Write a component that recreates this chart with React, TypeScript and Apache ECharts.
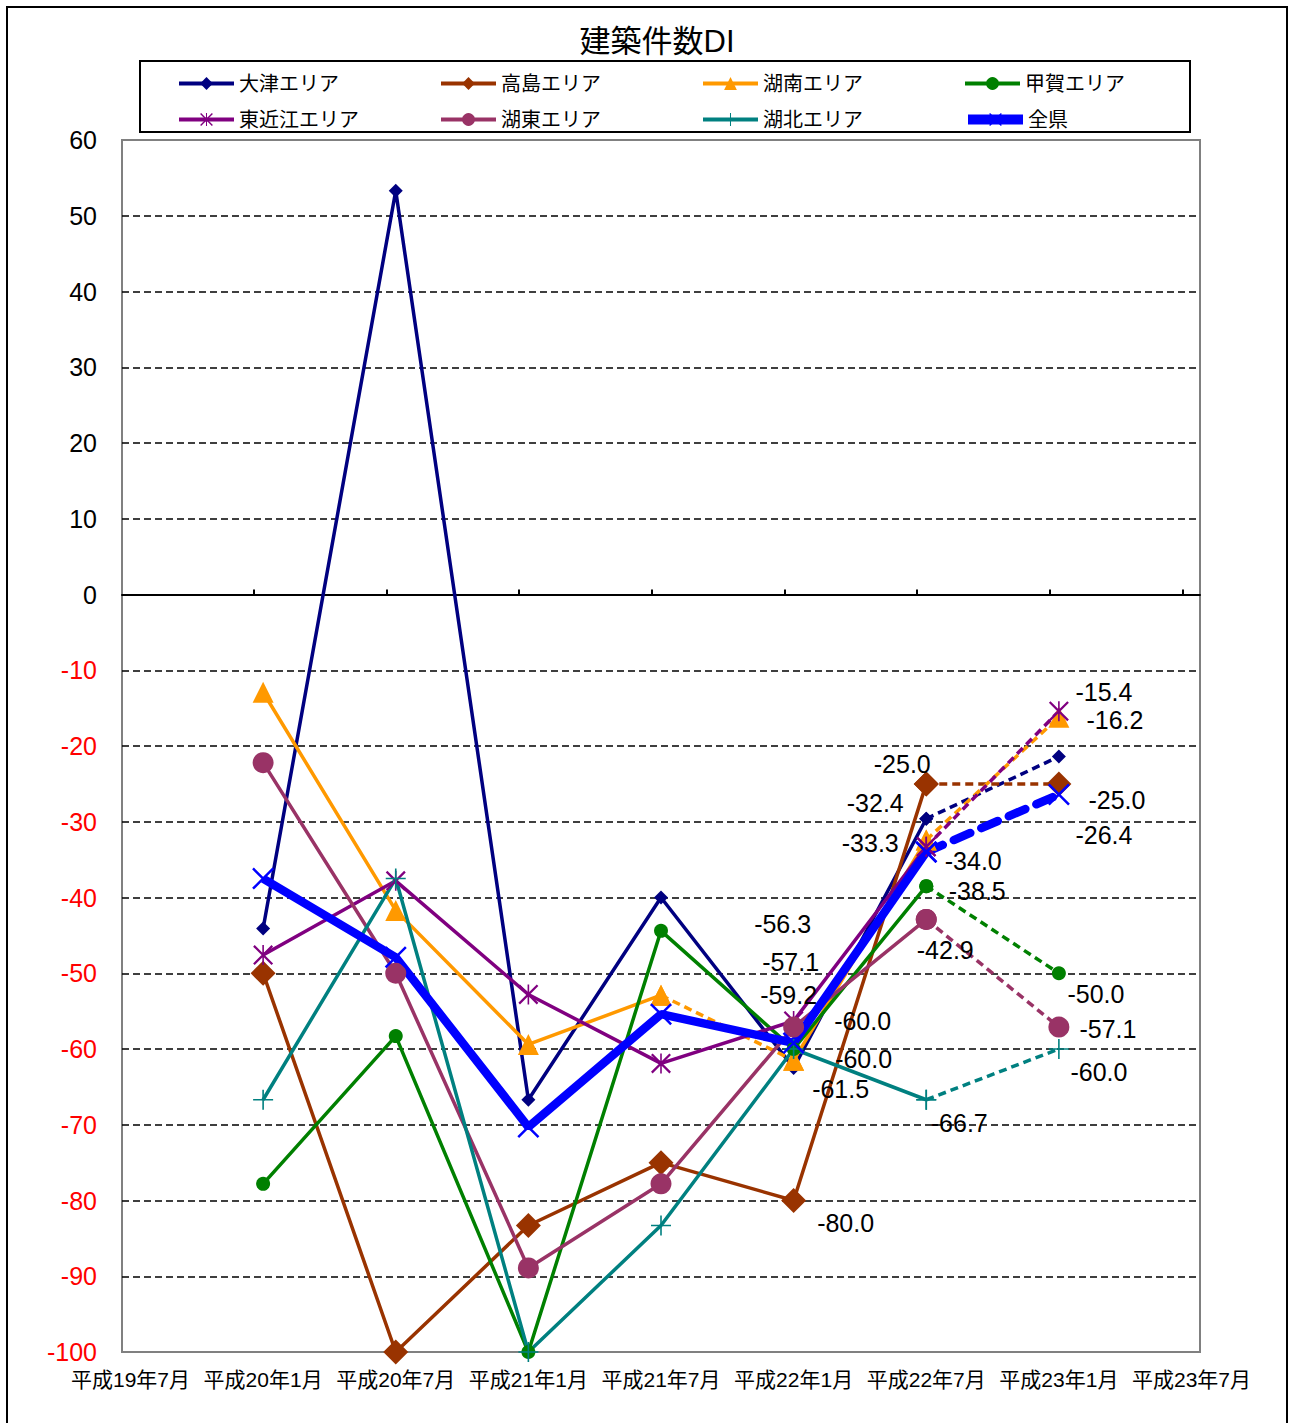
import React, { useEffect, useRef } from "react";
import * as echarts from "echarts";

const FONT = "'Liberation Sans', 'Noto Sans CJK JP', sans-serif";

// Category (tick) labels
const categories = [
  "平成19年7月", "平成20年1月", "平成20年7月", "平成21年1月", "平成21年7月",
  "平成22年1月", "平成22年7月", "平成23年1月", "平成23年7月",
];
// Series values start at category index 1 (平成20年1月) and end at 平成23年1月
const FIRST = 1;
const otsu = [-44.1, 53.3, -66.7, -40.0, -62.5, -29.6, -21.4];
const takashima = [-50.0, -100.0, -83.3, -75.0, -80.0, -25.0, -25.0];
const konan = [-12.9, -41.7, -59.4, -52.9, -61.5, -32.4, -16.2];
const koka = [-77.8, -58.3, -100.0, -44.4, -60.0, -38.5, -50.0];
const higashiomi = [-47.6, -37.8, -52.8, -61.9, -56.3, -33.3, -15.4];
const kotou = [-22.2, -50.0, -88.9, -77.8, -57.1, -42.9, -57.1];
const kohoku = [-66.7, -37.5, -100.0, -83.3, -60.0, -66.7, -60.0];
const zenken = [-37.5, -47.9, -70.3, -55.4, -59.2, -34.0, -26.4];
const yTicks = { min: -100, max: 60, interval: 10 };

// symbol paths
const ASTER = "path://M0,1.6L1.6,0L20,18.4L18.4,20ZM18.4,0L20,1.6L1.6,20L0,18.4ZM9.2,0L10.8,0L10.8,20L9.2,20Z";
const PLUS = "path://M0,9.2L20,9.2L20,10.8L0,10.8ZM9.2,0L10.8,0L10.8,20L9.2,20Z";
const XMARK = "path://M0,1.6L1.6,0L20,18.4L18.4,20ZM18.4,0L20,1.6L1.6,20L0,18.4Z";

const areas = [
  { name: "大津エリア", data: otsu, color: "#000080", width: 3.5, symbol: "diamond", size: 14, dashed: [5], labels: {} },
  { name: "高島エリア", data: takashima, color: "#993300", width: 3.5, symbol: "diamond", size: 25, dashed: [5],
    labels: { 4: [52, 22], 5: [-24, -20], 6: [58, 16] } },
  { name: "湖南エリア", data: konan, color: "#FF9900", width: 3.5, symbol: "triangle", size: 21, dashed: [3, 5],
    labels: { 4: [47, 29], 5: [-51, -37], 6: [56, 3] } },
  { name: "甲賀エリア", data: koka, color: "#008000", width: 3.5, symbol: "circle", size: 14, dashed: [5],
    labels: { 4: [69, -28], 5: [51, 5], 6: [37, 21] } },
  { name: "東近江エリア", data: higashiomi, color: "#800080", width: 3.5, symbol: ASTER, size: 20, dashed: [5],
    labels: { 4: [-11, -97], 5: [-56, -4], 6: [45, -19] } },
  { name: "湖東エリア", data: kotou, color: "#993366", width: 3.5, symbol: "circle", size: 21, dashed: [5],
    labels: { 4: [-3, -65], 5: [19, 31], 6: [49, 2] } },
  { name: "湖北エリア", data: kohoku, color: "#008080", width: 3.5, symbol: PLUS, size: 20, dashed: [5],
    labels: { 4: [70, 10], 5: [33, 23], 6: [40, 23] } },
  { name: "全県", data: zenken, color: "#0000FF", width: 8.5, symbol: XMARK, size: 22, dashed: [5],
    labels: { 4: [-5, -48], 5: [47, 9], 6: [45, 41] } },
];

// plot area geometry
const GRID = { left: 122, top: 140, width: 1078, height: 1212 };
const XMIN = -0.064;
const XMAX = 8.064;
const TICK_SHIFT = -0.069;

function buildSeries(a: any) {
  const out: any[] = [];
  const labeled = new Set<number>();
  const n = a.data.length;
  let i = 0;
  while (i < n - 1) {
    const d = a.dashed.includes(i);
    let j = i;
    while (j < n - 1 && a.dashed.includes(j) === d) j++;
    const pts: any[] = [];
    for (let k = i; k <= j; k++) {
      const item: any = { value: [k + FIRST, a.data[k]] };
      const off = a.labels[k];
      if (off && !labeled.has(k)) {
        labeled.add(k);
        item.label = {
          show: true,
          position: "inside",
          offset: off,
          formatter: a.data[k].toFixed(1),
          color: "#000",
          fontSize: 25,
          fontFamily: FONT,
          align: "center",
          verticalAlign: "middle",
        };
      }
      pts.push(item);
    }
    const thick = a.width > 5;
    out.push({
      type: "line",
      name: a.name,
      xAxisIndex: 0,
      yAxisIndex: 0,
      data: pts,
      symbol: a.symbol,
      symbolSize: a.size,
      showAllSymbol: true,
      itemStyle: { color: a.color, borderWidth: 0 },
      lineStyle: {
        color: a.color,
        width: a.width,
        type: d ? (thick ? [18, 12] : [8, 5]) : "solid",
        cap: d && thick ? "round" : "butt",
      },
      label: { show: false },
      emphasis: { disabled: true },
      z: 3,
    });
    i = j;
  }
  return out;
}

export default function App() {
  const ref = useRef<HTMLDivElement>(null);
  useEffect(() => {
    if (!ref.current) return;
    const chart = echarts.init(ref.current, undefined, { renderer: "svg" });
    const series = areas.flatMap(buildSeries);
    const tickVals = [1, 2, 3, 4, 5, 6, 7, 8].map((v) => v + TICK_SHIFT);
    chart.setOption({
      animation: false,
      backgroundColor: "#ffffff",
      textStyle: { fontFamily: FONT },
      title: {
        text: "建築件数DI",
        left: 652,
        top: 21,
        textAlign: "center",
        textStyle: { fontSize: 31, fontWeight: "normal", color: "#000", fontFamily: FONT },
      },
      legend: {
        data: areas.map((a) => ({
          name: a.name,
          lineStyle: { width: a.width > 5 ? 10 : 4 },
        })),
        left: 177,
        top: 67,
        padding: 0,
        width: 1090,
        itemWidth: 55,
        itemHeight: 16,
        itemGap: 3,
        selectedMode: false,
        textStyle: { fontSize: 20, color: "#000", fontFamily: FONT, width: 197, lineHeight: 33 },
      },
      grid: {
        ...GRID,
        show: true,
        borderColor: "#808080",
        borderWidth: 2,
        backgroundColor: "transparent",
        containLabel: false,
      },
      xAxis: [
        {
          type: "value",
          min: XMIN,
          max: XMAX,
          position: "bottom",
          axisLine: { show: false, onZero: false },
          axisTick: { show: false },
          splitLine: { show: false },
          axisLabel: {
            customValues: categories.map((_, i) => i),
            formatter: (v: number) => categories[Math.round(v)] ?? "",
            fontSize: 21,
            color: "#000",
            fontFamily: FONT,
            margin: 17,
          },
        },
        {
          type: "value",
          min: XMIN,
          max: XMAX,
          position: "top",
          axisLine: { show: true, onZero: true, lineStyle: { color: "#000", width: 2 } },
          axisTick: {
            show: true,
            customValues: tickVals,
            length: 5,
            inside: false,
            lineStyle: { color: "#000", width: 2 },
          },
          axisLabel: { show: false },
          splitLine: { show: false },
        },
      ],
      yAxis: {
        type: "value",
        min: yTicks.min,
        max: yTicks.max,
        interval: yTicks.interval,
        axisLine: { show: false },
        axisTick: { show: false },
        splitLine: {
          show: true,
          showMinLine: false,
          showMaxLine: false,
          lineStyle: { color: "#000", type: [7, 4], width: 1.5 },
        },
        axisLabel: {
          margin: 25,
          formatter: (v: number) => (v < 0 ? `{r|${v}}` : `{k|${v}}`),
          rich: {
            r: { color: "#FF0000", fontSize: 25, fontFamily: FONT },
            k: { color: "#000000", fontSize: 25, fontFamily: FONT },
          },
        },
      },
      graphic: [
        {
          type: "rect",
          silent: true,
          shape: { x: 7, y: 7, width: 1280, height: 1440 },
          style: { fill: "none", stroke: "#000", lineWidth: 2 },
          z: 0,
        },
        {
          type: "rect",
          silent: true,
          shape: { x: 140, y: 61, width: 1050, height: 71 },
          style: { fill: "none", stroke: "#000", lineWidth: 2 },
          z: 0,
        },
      ],
      series,
    });
    return () => chart.dispose();
  }, []);
  return (
    <div
      ref={ref}
      style={{ position: "fixed", left: 0, top: 0, width: 1290, height: 1423, background: "#fff" }}
    />
  );
}
